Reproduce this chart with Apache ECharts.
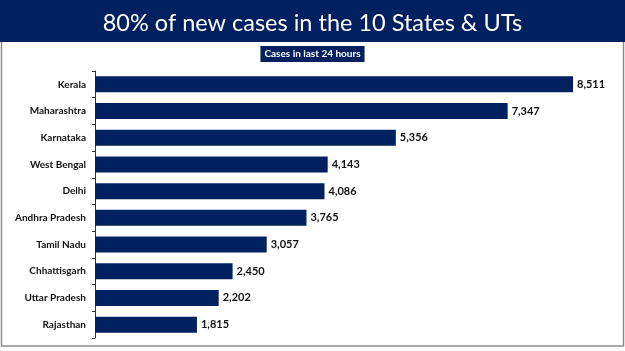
<!DOCTYPE html>
<html>
<head>
<meta charset="utf-8">
<script src="https://cdn.jsdelivr.net/npm/echarts@6/dist/echarts.min.js"></script>
<style>
html, body { margin: 0; padding: 0; background: #fff; }
#chart { width: 625px; height: 351px; }
</style>
</head>
<body>
<div id="chart"></div>
<script>
// states, top to bottom as shown
var states = ['Kerala', 'Maharashtra', 'Karnataka', 'West Bengal', 'Delhi',
    'Andhra Pradesh', 'Tamil Nadu', 'Chhattisgarh', 'Uttar Pradesh', 'Rajasthan'];
var cases = [8511, 7347, 5356, 4143, 4086, 3765, 3057, 2450, 2202, 1815];

var navy = '#002060';

var myChart = echarts.init(document.getElementById('chart'));

var option = {
    animation: false,
    title: [
        {
            text: '80% of new cases in the 10 States & UTs',
            left: 'center',
            top: 6,
            textStyle: {
                color: '#fff',
                fontFamily: 'Lato',
                fontWeight: 'normal',
                fontSize: 23.5
            }
        },
        {
            text: 'Cases in last 24 hours',
            left: 'center',
            top: 46,
            backgroundColor: navy,
            padding: [3, 4, 3, 4],
            textStyle: {
                color: '#fff',
                fontFamily: 'Lato',
                fontWeight: 'bold',
                fontSize: 10
            }
        }
    ],
    graphic: [
        {
            type: 'rect',
            z: -1,
            shape: { x: 1.5, y: 0, width: 622, height: 346 },
            style: { fill: '#fff', stroke: '#8c8c8c', lineWidth: 1.5 }
        },
        {
            type: 'rect',
            z: 0,
            shape: { x: 0, y: 0, width: 625, height: 42 },
            style: { fill: navy }
        }
    ],
    grid: {
        left: 95,
        top: 71,
        width: 505.5,
        height: 267
    },
    xAxis: {
        type: 'value',
        min: 0,
        max: 9000,
        show: false
    },
    yAxis: {
        type: 'category',
        inverse: true,
        data: states,
        axisLine: { lineStyle: { color: '#333', width: 1 } },
        axisTick: { show: true, length: 3, lineStyle: { color: '#333' } },
        axisLabel: {
            color: '#111',
            fontFamily: 'Lato',
            fontWeight: 'bold',
            fontSize: 10,
            margin: 9
        }
    },
    series: [
        {
            type: 'bar',
            data: cases,
            barWidth: 16,
            itemStyle: { color: navy },
            label: {
                show: true,
                position: 'right',
                distance: 4,
                color: '#111',
                fontFamily: 'Lato',
                fontWeight: 'bold',
                fontSize: 11,
                formatter: function (p) {
                    return p.value.toLocaleString('en-US');
                }
            }
        }
    ]
};

myChart.setOption(option, true);
</script>
</body>
</html>
